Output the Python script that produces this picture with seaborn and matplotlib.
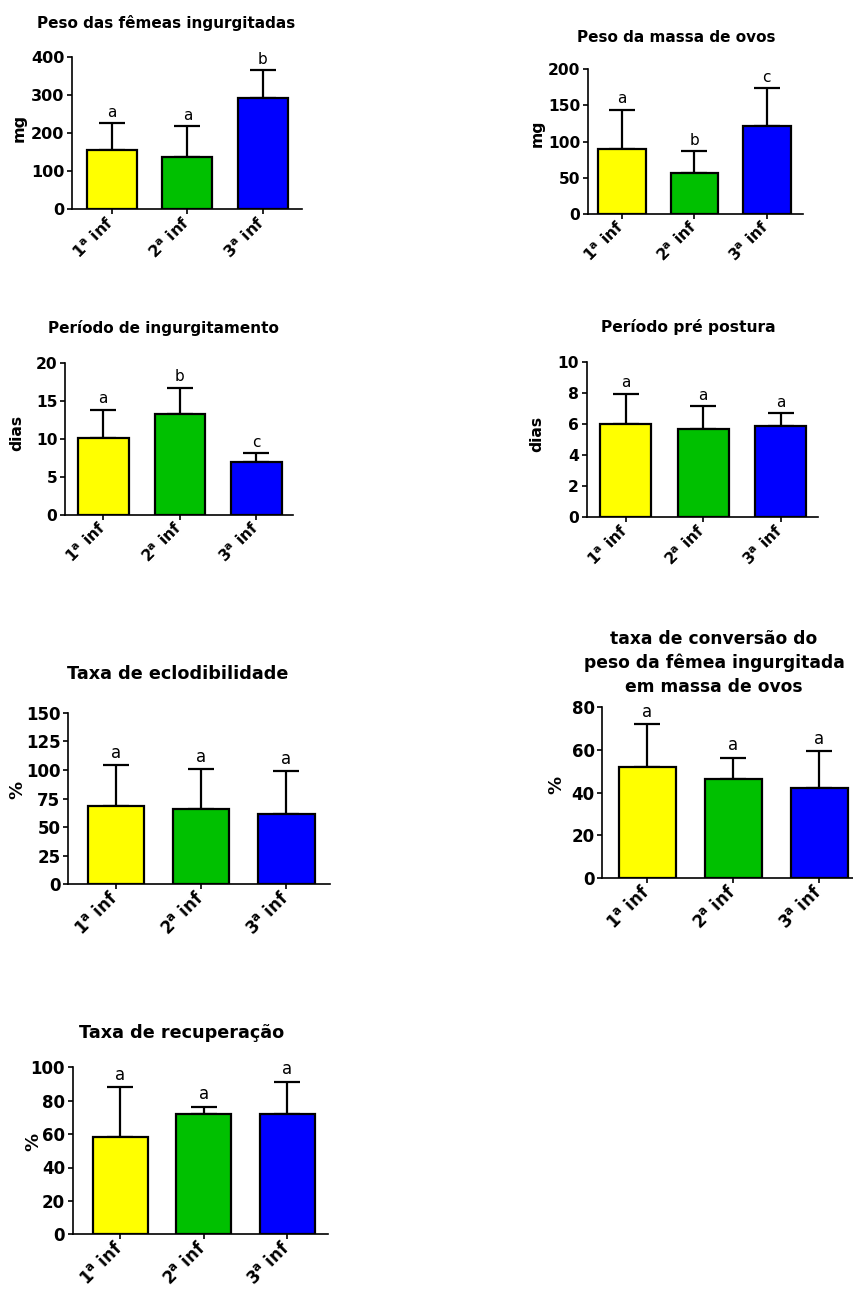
import numpy as np
import matplotlib
matplotlib.use("Agg")
import matplotlib.pyplot as plt
import seaborn as sns

sns.set_theme(style="ticks")
plt.rcParams["font.family"] = ["DejaVu Sans"]
plt.rcParams["mathtext.fontset"] = "dejavusans"
plt.rcParams["text.color"] = "black"
plt.rcParams["axes.labelcolor"] = "black"
plt.rcParams["xtick.color"] = "black"
plt.rcParams["ytick.color"] = "black"

# Groups and colours
groups = ["1ª inf", "2ª inf", "3ª inf"]
tick_labels = [r"1$^{\mathbf{a}}$ inf", r"2$^{\mathbf{a}}$ inf", r"3$^{\mathbf{a}}$ inf"]
colors = ["#FFFF00", "#00C000", "#0000FF"]

# Peso das fêmeas ingurgitadas (mg)
peso_femeas = [155, 137, 293]
peso_femeas_sd = [71, 81, 72]
peso_femeas_letters = ["a", "a", "b"]

# Peso da massa de ovos (mg)
massa_ovos = [90, 56, 121]
massa_ovos_sd = [54, 31, 53]
massa_ovos_letters = ["a", "b", "c"]

# Período de ingurgitamento (dias)
ingurgitamento = [10.1, 13.2, 6.9]
ingurgitamento_sd = [3.7, 3.5, 1.2]
ingurgitamento_letters = ["a", "b", "c"]

# Período pré postura (dias)
pre_postura = [6.0, 5.65, 5.85]
pre_postura_sd = [1.95, 1.5, 0.85]
pre_postura_letters = ["a", "a", "a"]

# Taxa de eclodibilidade (%)
eclodibilidade = [68.7, 66.1, 61.5]
eclodibilidade_sd = [35.6, 34.7, 37.5]
eclodibilidade_letters = ["a", "a", "a"]

# Taxa de conversão (%)
conversao = [51.9, 46.1, 42.1]
conversao_sd = [19.9, 10.0, 17.2]
conversao_letters = ["a", "a", "a"]

# Taxa de recuperação (%)
recuperacao = [58.3, 72.0, 72.0]
recuperacao_sd = [29.7, 4.4, 19.4]
recuperacao_letters = ["a", "a", "a"]

W, H = 854, 1291
fig = plt.figure(figsize=(W / 100, H / 100), dpi=100)


def panel(px_box, xlim, ylim, yticks, vals, sds, letters, ylabel, ylabel_xy,
          title, title_xy, fs=11, title_fs=11, letter_fs=10, ylabel_fs=None):
    x0, x1, ytop, ybot = px_box
    ax = fig.add_axes([x0 / W, 1 - ybot / H, (x1 - x0) / W, (ybot - ytop) / H])
    sns.barplot(x=groups, y=vals, hue=groups, palette=colors, width=0.66,
                saturation=1, edgecolor="black", linewidth=1.6,
                errorbar=None, legend=False, ax=ax, zorder=3)
    pos = np.arange(len(vals))
    ax.errorbar(pos, vals, yerr=[np.zeros(len(sds)), sds], fmt="none",
                ecolor="black", elinewidth=1.6, capsize=9.5, capthick=1.6,
                zorder=2)
    for p, v, s, l in zip(pos, vals, sds, letters):
        ax.annotate(l, (p, v + s), xytext=(0, 2.5), textcoords="offset points",
                    ha="center", va="bottom", fontsize=letter_fs)
    ax.set_xlim(*xlim)
    ax.set_ylim(*ylim)
    ax.set_yticks(yticks)
    ax.set_yticklabels([str(t) for t in yticks], fontsize=fs,
                       fontweight="bold")
    ax.set_xticks(pos)
    ax.set_xticklabels(tick_labels, rotation=45, ha="right", va="center",
                       rotation_mode="anchor", fontsize=fs,
                       fontweight="bold")
    ax.set_xlabel("")
    ax.set_ylabel(ylabel, fontsize=ylabel_fs or fs, fontweight="bold")
    lx = (ylabel_xy[0] - x0) / (x1 - x0)
    ly = (ybot - ylabel_xy[1]) / (ybot - ytop)
    ax.yaxis.set_label_coords(lx, ly)
    ax.yaxis.label.set_verticalalignment("center")
    for side in ("top", "right"):
        ax.spines[side].set_visible(False)
    for side in ("left", "bottom"):
        ax.spines[side].set_linewidth(1.2)
        ax.spines[side].set_color("black")
    ax.tick_params(axis="both", direction="out", length=3.5, width=1.2,
                   color="black", pad=2)
    ax.tick_params(axis="x", pad=4)
    ax.set_facecolor("white")
    fig.text(title_xy[0] / W, 1 - title_xy[1] / H, title, ha="center",
             va="center", fontsize=title_fs, fontweight="bold",
             linespacing=1.4)
    return ax


panel((72, 302, 57, 209), (-0.53, 2.52), (0, 400), [0, 100, 200, 300, 400],
      peso_femeas, peso_femeas_sd, peso_femeas_letters, "mg", (19, 128),
      "Peso das fêmeas ingurgitadas", (166, 23), fs=11.5, title_fs=11,
      letter_fs=11)

panel((588, 803, 69.3, 214), (-0.47, 2.50), (0, 200), [0, 50, 100, 150, 200],
      massa_ovos, massa_ovos_sd, massa_ovos_letters, "mg", (537, 133),
      "Peso da massa de ovos", (676, 37), fs=11.2, title_fs=11,
      letter_fs=11)

panel((65, 293, 362.7, 514.7), (-0.50, 2.48), (0, 20), [0, 5, 10, 15, 20],
      ingurgitamento, ingurgitamento_sd, ingurgitamento_letters, "dias",
      (17, 433), "Período de ingurgitamento", (163, 328), fs=11.2,
      title_fs=11, letter_fs=11)

panel((586.7, 818, 361.7, 517.3), (-0.50, 2.48), (0, 10), [0, 2, 4, 6, 8, 10],
      pre_postura, pre_postura_sd, pre_postura_letters, "dias", (537, 434),
      "Período pré postura", (688, 327), fs=11.2, title_fs=11.2,
      letter_fs=11)

panel((68, 330, 712.7, 884.3), (-0.56, 2.51), (0, 150),
      [0, 25, 50, 75, 100, 125, 150],
      eclodibilidade, eclodibilidade_sd, eclodibilidade_letters, "%", (17, 790),
      "Taxa de eclodibilidade", (178, 674), fs=12, title_fs=12.7,
      letter_fs=12, ylabel_fs=13)

panel((602.3, 853, 706.7, 878.3), (-0.52, 2.39), (0, 80), [0, 20, 40, 60, 80],
      conversao, conversao_sd, conversao_letters, "%", (556, 785),
      "taxa de conversão do\npeso da fêmea ingurgitada\nem massa de ovos",
      (714, 663), fs=12, title_fs=12.3, letter_fs=12, ylabel_fs=13)

panel((72.7, 328, 1067.3, 1234.3), (-0.57, 2.49), (0, 100),
      [0, 20, 40, 60, 80, 100],
      recuperacao, recuperacao_sd, recuperacao_letters, "%", (33, 1142),
      "Taxa de recuperação", (182, 1033), fs=12, title_fs=12.7,
      letter_fs=12, ylabel_fs=13)

fig.savefig("out.png", dpi=100, facecolor="white")
